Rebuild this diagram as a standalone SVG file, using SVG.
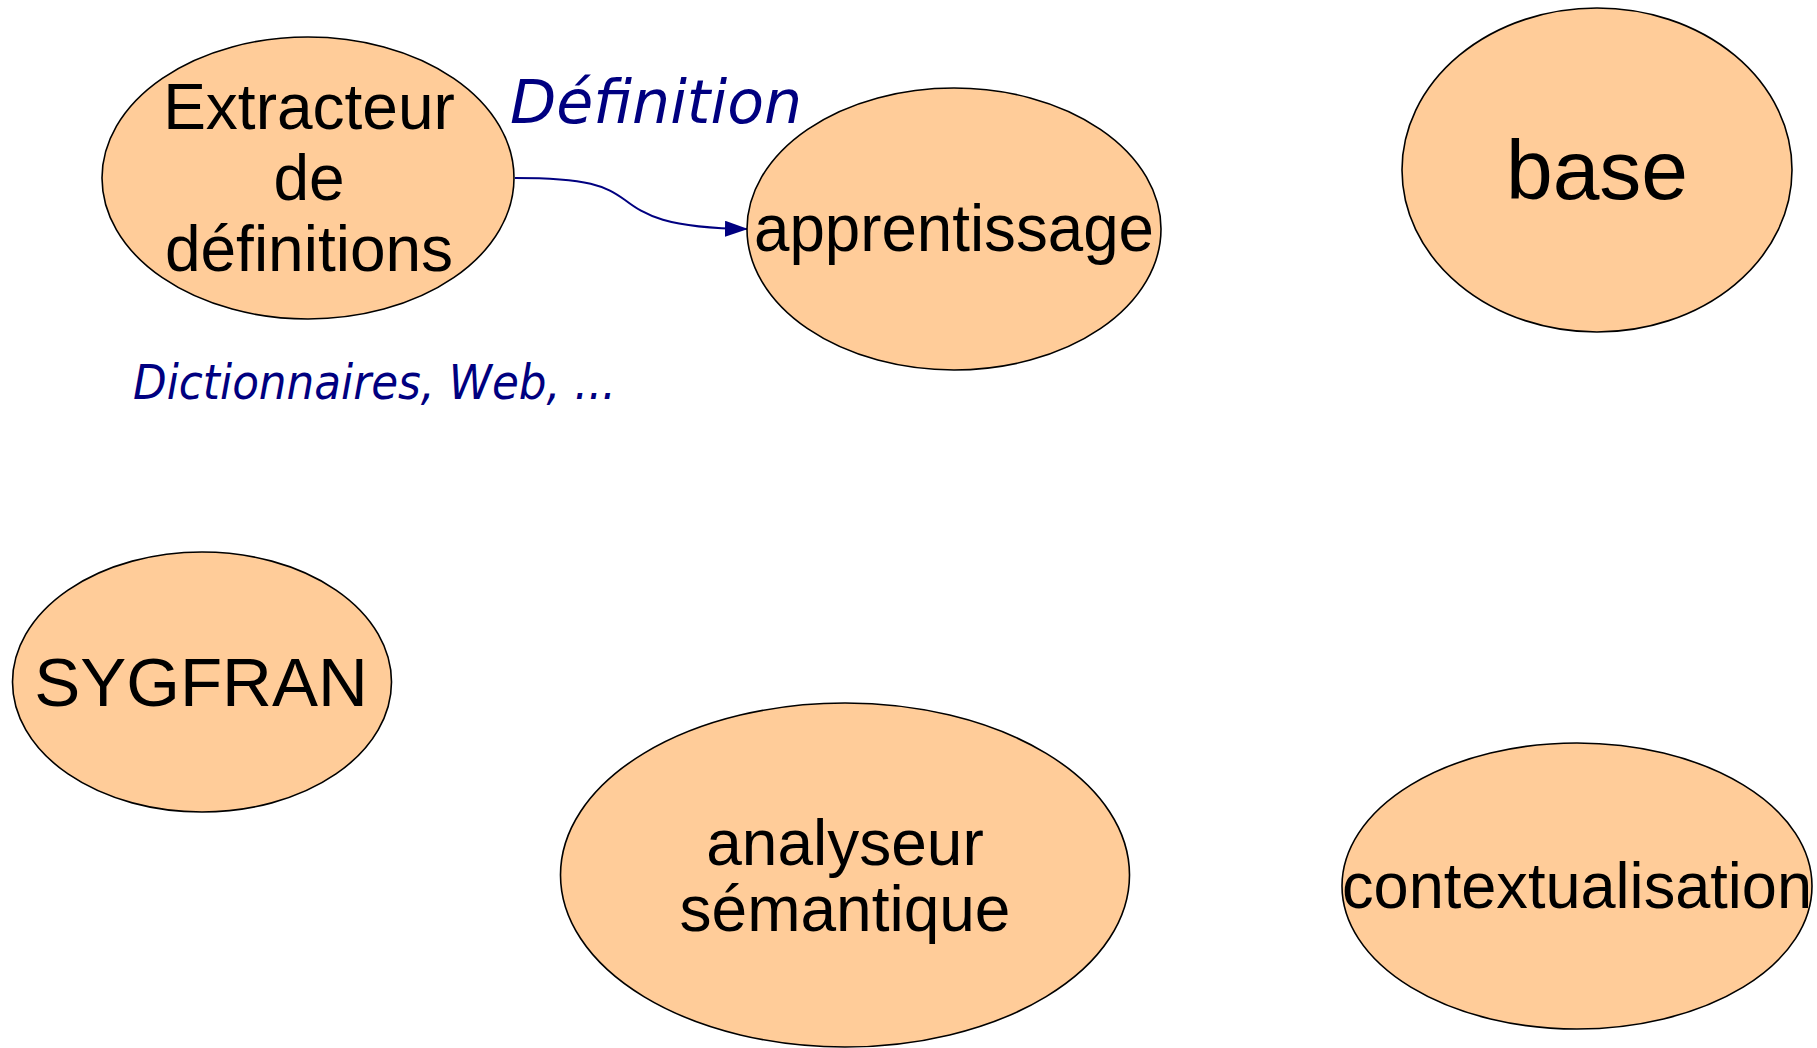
<svg xmlns="http://www.w3.org/2000/svg" width="1817" height="1048" viewBox="0 0 1817 1048">
<style>
.node ellipse{fill:#FFCC99;stroke:#000;stroke-width:1.6}
.nt{font-family:"Liberation Sans",Arial,sans-serif;fill:#000;text-anchor:middle}
.lbl{font-family:"DejaVu Sans",sans-serif;font-style:italic;fill:#000080}
.edge{fill:none;stroke:#000080;stroke-width:2}
</style>
<defs>
<marker id="arr" markerWidth="24" markerHeight="16" refX="23" refY="8" orient="auto" markerUnits="userSpaceOnUse">
<path d="M0,0 L23,8 L0,16 Z" fill="#000080"/>
</marker>
</defs>
<rect width="1817" height="1048" fill="#fff"/>
<g id="connectors">
<path class="edge" d="M515,178 C590,178 605,186 625,200 C645,215 665,228 748,229" marker-end="url(#arr)"/>
</g>
<g id="extracteur" class="node">
<ellipse cx="308" cy="178" rx="206" ry="141"/>
<text class="nt" x="309" y="129" font-size="64">Extracteur</text>
<text class="nt" x="309" y="200" font-size="64">de</text>
<text class="nt" x="309" y="271" font-size="64">définitions</text>
</g>
<g id="apprentissage" class="node">
<ellipse cx="954" cy="229" rx="207" ry="141"/>
<text class="nt" x="954" y="251" font-size="66" textLength="400" lengthAdjust="spacingAndGlyphs">apprentissage</text>
</g>
<g id="base" class="node">
<ellipse cx="1597" cy="170" rx="195" ry="162"/>
<text class="nt" x="1597" y="199" font-size="84">base</text>
</g>
<g id="sygfran" class="node">
<ellipse cx="202" cy="682" rx="189.5" ry="130"/>
<text class="nt" x="201" y="706" font-size="69">SYGFRAN</text>
</g>
<g id="analyseur" class="node">
<ellipse cx="845" cy="875" rx="284.5" ry="172"/>
<text class="nt" x="845" y="865" font-size="64">analyseur</text>
<text class="nt" x="845" y="931" font-size="64">sémantique</text>
</g>
<g id="contextualisation" class="node">
<ellipse cx="1577" cy="886" rx="235" ry="143"/>
<text class="nt" x="1577" y="908" font-size="64" textLength="470" lengthAdjust="spacingAndGlyphs">contextualisation</text>
</g>
<g id="labels">
<text class="lbl" x="510" y="123" font-size="60" textLength="292" lengthAdjust="spacingAndGlyphs">Définition</text>
<text class="lbl" x="133" y="399" font-size="48" textLength="483" lengthAdjust="spacingAndGlyphs">Dictionnaires, Web, ...</text>
</g>
</svg>
